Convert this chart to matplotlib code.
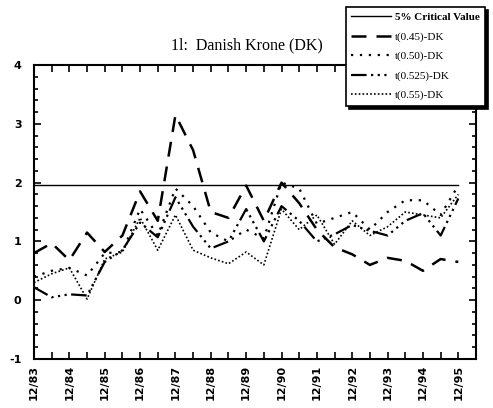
import numpy as np
import matplotlib.pyplot as plt
from matplotlib.ticker import MultipleLocator

# semi-annual observations, 12/83 .. 12/95
year_labels = ['12/83', '12/84', '12/85', '12/86', '12/87', '12/88', '12/89',
               '12/90', '12/91', '12/92', '12/93', '12/94', '12/95']

crit_value = 1.96

t_045 = [0.80, 0.97, 0.68, 1.15, 0.82, 1.10, 1.85, 1.35, 3.15, 2.55, 1.50, 1.40, 1.95,
         1.35, 2.00, 1.65, 1.20, 0.90, 0.78, 0.60, 0.72, 0.67, 0.50, 0.70, 0.65]
t_050 = [0.40, 0.50, 0.55, 0.42, 0.80, 0.82, 1.55, 1.10, 1.90, 1.60, 1.15, 1.00, 1.20,
         1.05, 2.00, 1.90, 1.30, 1.40, 1.50, 1.20, 1.50, 1.70, 1.70, 1.45, 1.95]
t_0525 = [0.22, 0.05, 0.10, 0.08, 0.65, 0.85, 1.32, 1.07, 1.75, 1.25, 0.88, 1.00, 1.55,
          1.00, 1.60, 1.35, 1.00, 1.12, 1.28, 1.18, 1.10, 1.35, 1.48, 1.10, 1.73]
t_055 = [0.30, 0.45, 0.55, 0.02, 0.70, 0.82, 1.40, 0.85, 1.45, 0.85, 0.72, 0.62, 0.82,
         0.60, 1.55, 1.20, 1.45, 0.95, 1.35, 1.10, 1.25, 1.50, 1.45, 1.40, 1.80]

x = np.arange(len(t_045))

fig = plt.figure(figsize=(4.93, 4.08), dpi=100)
ax = fig.add_axes([34/493, 49/408, 442/493, 294/408])

# critical value line over the sample period
ax.plot(x, np.full(len(x), crit_value), color='black', lw=1.0, label='5% Critical Value')
ax.plot(x, t_045, color='black', lw=1.8, linestyle=(0, (6, 4)), label='t(0.45)-DK')
ax.plot(x, t_050, color='black', lw=1.6, linestyle=(0, (1, 3)), label='t(0.50)-DK')
ax.plot(x, t_0525, color='black', lw=1.6, linestyle=(0, (7, 2, 1, 2, 1, 2, 1, 2)), label='t(0.525)-DK')
ax.plot(x, t_055, color='black', lw=1.2, linestyle=(0, (1, 1.3)), label='t(0.55)-DK')

ax.set_xlim(0, 25)
ax.set_ylim(-1, 4)

# year labels on every other (December) observation
ax.set_xticks(x[::2])
ax.set_xticklabels(year_labels, rotation=90, fontsize=8, fontweight='bold')
ax.xaxis.set_minor_locator(MultipleLocator(1))
ax.set_yticks([-1, 0, 1, 2, 3, 4])
ax.set_yticklabels(['-1', '0', '1', '2', '3', '4'], fontsize=8, fontweight='bold')
ax.yaxis.set_minor_locator(MultipleLocator(0.2))

ax.tick_params(which='both', direction='in', top=True, right=True, width=1.2)
ax.tick_params(which='major', length=5, pad=4)
ax.tick_params(which='minor', length=3)
ax.tick_params(axis='x', which='minor', length=5)
ax.tick_params(axis='y', which='major', pad=9)
for s in ax.spines.values():
    s.set_linewidth(1.5)

fig.text(247/493, 1 - 45/408, '1l:  Danish Krone (DK)', ha='center', va='center',
         fontsize=11.5, family='Liberation Serif')

leg = ax.legend(loc='upper right', bbox_to_anchor=(485/493, 1 - 7/408),
                bbox_transform=fig.transFigure, fancybox=False, framealpha=1,
                edgecolor='black', prop={'family': 'Liberation Serif', 'size': 8},
                handlelength=3.6, handletextpad=0.3, labelspacing=0.85,
                borderpad=0.5, borderaxespad=0,
                shadow={'color': 'black', 'alpha': 1})
leg.get_frame().set_linewidth(1.2)
leg.get_texts()[0].set_fontweight('bold')

fig.savefig('out.png', dpi=100)
